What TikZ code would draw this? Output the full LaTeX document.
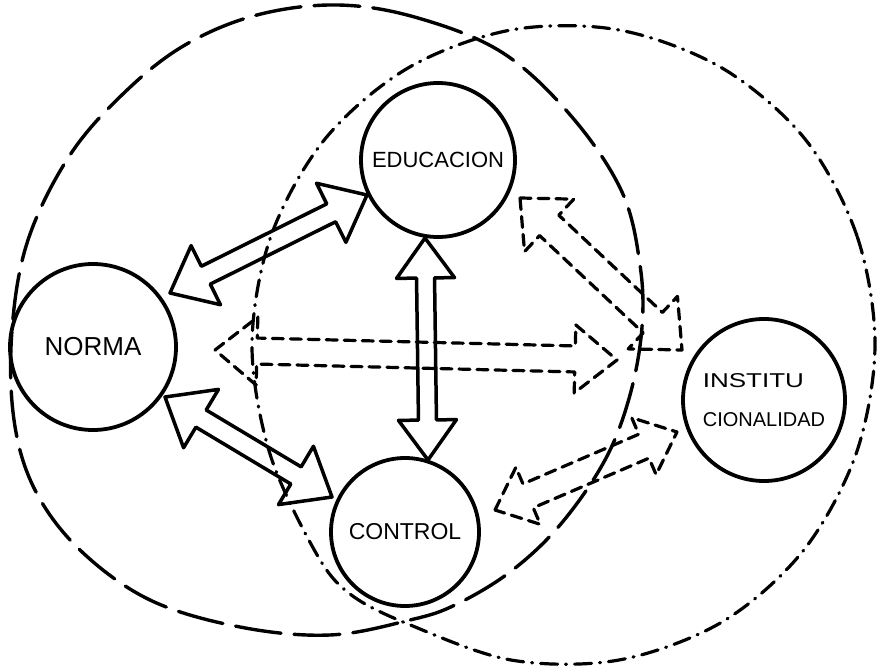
\documentclass[tikz,border=0pt]{standalone}
\usepackage{fontspec}
\setmainfont{Liberation Sans}
\usetikzlibrary{calc}
% block arrow with two heads: #1 style, #2 start, #3 end, #4 shaft half width, #5 head half width, #6 head length
\newcommand{\blockarr}[6]{%
\draw[#1] (#2)
 -- ($(#2)!#6!(#3)!#5!90:(#3)$)
 -- ($(#2)!#6!(#3)!#4!90:(#3)$)
 -- ($(#3)!#6!(#2)!#4!-90:(#2)$)
 -- ($(#3)!#6!(#2)!#5!-90:(#2)$)
 -- (#3)
 -- ($(#3)!#6!(#2)!#5!90:(#2)$)
 -- ($(#3)!#6!(#2)!#4!90:(#2)$)
 -- ($(#2)!#6!(#3)!#4!-90:(#3)$)
 -- ($(#2)!#6!(#3)!#5!-90:(#3)$)
 -- cycle;}
\begin{document}
\begin{tikzpicture}[x=1pt,y=-1pt,
  circ/.style={circle, draw, line width=3.8pt, inner sep=0pt},
  lbl/.style={font=\fontsize{26}{30}\selectfont},
  solidarr/.style={line width=3.5pt, line join=round},
  dasharr/.style={line width=3.2pt, dash pattern=on 11pt off 7pt, line join=round, line cap=round},
  longdash/.style={line width=3.4pt, dash pattern=on 46pt off 13pt, line cap=round},
  dashdot/.style={line width=3.2pt, dash pattern=on 17pt off 8pt on 1pt off 8pt, line cap=round}]
\useasboundingbox (0,0) rectangle (883,669);

% large enclosing curves
\draw[longdash] plot[smooth cycle, tension=0.6] coordinates {
 (338,5) (418,18) (503,53) (572,117) (622,192) (640,265) (642,327) (630,395)
 (605,460) (560,525) (510,572) (455,605) (410,620) (330,635) (240,627) (150,600)
 (80,550) (35,490) (14,420) (12,330) (28,240) (70,155) (125,92) (185,45) (257,15)};
\draw[dashdot] plot[smooth cycle, tension=0.55] coordinates {
 (875,345) (857,236) (805,139) (722,68) (619,30) (511,30) (408,68) (325,139)
 (271,236) (252,345) (270,454) (316,553) (350,594) (408,624) (511,660) (619,660)
 (722,622) (803,551) (856,454)};

% concept circles
\node[circ, lbl, minimum size=166pt] (norma) at (93,347) {NORMA};
\node[circ, font=\fontsize{22}{26}\selectfont, minimum size=154pt] (edu) at (438,160) {EDUCACION};
\node[circ, font=\fontsize{23}{27}\selectfont, minimum size=148pt] (ctrl) at (405,532) {CONTROL};
\node[circ, font=\fontsize{20}{39}\selectfont, align=left, minimum size=162pt] (inst) at (764,400)
  {\scalebox{1.3}[1]{INSTITU}\\CIONALIDAD};

% arrow end points
\coordinate (ne1) at (170,293);
\coordinate (ne2) at (367,195);
\coordinate (nc1) at (165,397);
\coordinate (nc2) at (332,497);
\coordinate (ec1) at (425,238);
\coordinate (ec2) at (428,460);
\coordinate (ni1) at (215,350);
\coordinate (ni2) at (617,360);
\coordinate (ei1) at (520,198);
\coordinate (ei2) at (682,350);
\coordinate (ci1) at (495,510);
\coordinate (ci2) at (677,432);

% solid double arrows
\blockarr{solidarr}{ne1}{ne2}{10pt}{33pt}{40pt}
\blockarr{solidarr}{nc1}{nc2}{10pt}{34pt}{42pt}
\blockarr{solidarr}{ec1}{ec2}{9pt}{29pt}{40pt}
% dashed double arrows
\blockarr{dasharr}{ni1}{ni2}{13pt}{34pt}{42pt}
\blockarr{dasharr}{ei1}{ei2}{14pt}{36pt}{40pt}
\blockarr{dasharr}{ci1}{ci2}{13pt}{31pt}{36pt}
\end{tikzpicture}
\end{document}
